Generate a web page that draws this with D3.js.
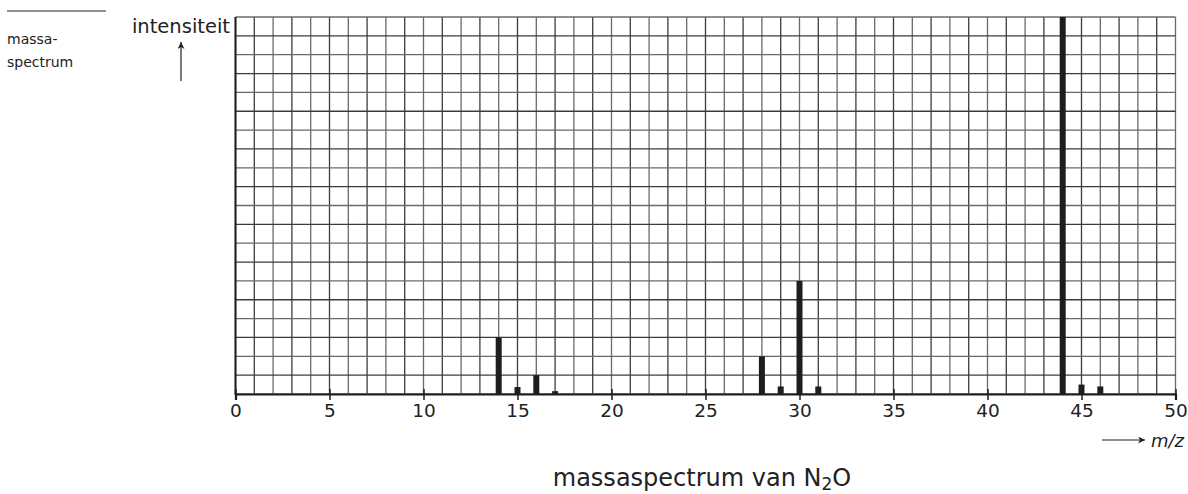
<!DOCTYPE html>
<html>
<head>
<meta charset="utf-8">
<script src="https://cdn.jsdelivr.net/npm/d3@7"></script>
<style>
  body { margin: 0; background: #fff; }
  svg text { font-family: "DejaVu Sans", "Liberation Sans", Arial, sans-serif; fill: #222; }
</style>
</head>
<body>
<div id="chart"></div>
<script>
// m/z values and relative intensity (grid units, 20 = highest peak)
var massValues = [14, 15, 16, 17, 28, 29, 30, 31, 44, 45, 46];
var intensities = [3.0, 0.37, 1.0, 0.15, 2.0, 0.4, 6.0, 0.4, 20, 0.5, 0.4];
var xTicks = [0, 5, 10, 15, 20, 25, 30, 35, 40, 45, 50];

(function () {
    var width = 1188, height = 494;
    var pLeft = 235.5, pRight = 1175.5, pTop = 17, pBottom = 394;

    var svg = d3.select("#chart").append("svg").attr("width", width).attr("height", height);

    var x = d3.scaleLinear().domain([0, 50]).range([pLeft, pRight]);
    var y = d3.scaleLinear().domain([0, 20]).range([pBottom, pTop]);

    // grid
    var grid = svg.append("g").attr("class", "grid");
    grid.selectAll("line.v").data(d3.range(0, 51)).enter().append("line").attr("class", "v")
        .attr("x1", function (d) { return x(d); }).attr("x2", function (d) { return x(d); })
        .attr("y1", pTop).attr("y2", pBottom)
        .attr("stroke", function (d) { return d % 2 ? "#3c3c3c" : "#6a6a6a"; }).attr("stroke-width", 1.3);
    grid.selectAll("line.h").data(d3.range(0, 21)).enter().append("line").attr("class", "h")
        .attr("x1", pLeft).attr("x2", pRight)
        .attr("y1", function (d) { return y(d); }).attr("y2", function (d) { return y(d); })
        .attr("stroke", function (d) { return d % 2 ? "#3c3c3c" : "#6a6a6a"; }).attr("stroke-width", 1.3);

    // bars
    svg.append("g").selectAll("rect").data(massValues).enter().append("rect")
        .attr("x", function (d) { return x(d) - 3; })
        .attr("width", 6)
        .attr("y", function (d, i) { return y(intensities[i]); })
        .attr("height", function (d, i) { return pBottom - y(intensities[i]); })
        .attr("fill", "#1e1e1e");

    // axes
    var xAxis = d3.axisBottom(x).tickValues(xTicks).tickSize(6).tickPadding(4);
    var ax = svg.append("g").attr("transform", "translate(0," + pBottom + ")").call(xAxis);
    ax.select(".domain").attr("stroke", "#1e1e1e").attr("stroke-width", 2.2);
    ax.selectAll(".tick line").attr("stroke", "#1e1e1e").attr("stroke-width", 1.5).attr("y1", -5);
    ax.selectAll(".tick text").attr("font-size", 18.5)
        .attr("font-family", "DejaVu Sans, Liberation Sans, Arial, sans-serif").attr("fill", "#222");

    svg.append("line").attr("x1", pLeft).attr("x2", pLeft).attr("y1", pTop).attr("y2", pBottom + 1)
        .attr("stroke", "#1e1e1e").attr("stroke-width", 2);

    // arrows
    var defs = svg.append("defs");
    defs.append("marker").attr("id", "arr").attr("viewBox", "0 0 10 10")
        .attr("refX", 10).attr("refY", 5).attr("markerWidth", 12).attr("markerHeight", 7)
        .attr("markerUnits", "userSpaceOnUse").attr("orient", "auto")
        .append("path").attr("d", "M0,0 L10,5 L0,10 L3,5 Z").attr("fill", "#222");

    svg.append("line").attr("x1", 181).attr("x2", 181).attr("y1", 81).attr("y2", 42)
        .attr("stroke", "#222").attr("stroke-width", 1.2).attr("marker-end", "url(#arr)");
    svg.append("line").attr("x1", 1102).attr("x2", 1145).attr("y1", 440).attr("y2", 440)
        .attr("stroke", "#222").attr("stroke-width", 1.2).attr("marker-end", "url(#arr)");

    // labels
    svg.append("text").attr("x", 230).attr("y", 33).attr("text-anchor", "end")
        .attr("font-size", 19.5).text("intensiteit");
    svg.append("text").attr("x", 1151).attr("y", 447).attr("font-size", 18)
        .attr("font-style", "italic").text("m/z");

    svg.append("line").attr("x1", 7).attr("x2", 106).attr("y1", 11).attr("y2", 11)
        .attr("stroke", "#222").attr("stroke-width", 1);
    svg.append("text").attr("x", 7).attr("y", 44).attr("font-size", 14).text("massa-");
    svg.append("text").attr("x", 7).attr("y", 67).attr("font-size", 14).text("spectrum");

    var title = svg.append("text").attr("x", 702).attr("y", 486).attr("text-anchor", "middle")
        .attr("font-size", 24);
    title.append("tspan").text("massaspectrum van N");
    title.append("tspan").attr("font-size", 17).attr("dy", 4).text("2");
    title.append("tspan").attr("dy", -4).text("O");
})();
</script>
</body>
</html>
